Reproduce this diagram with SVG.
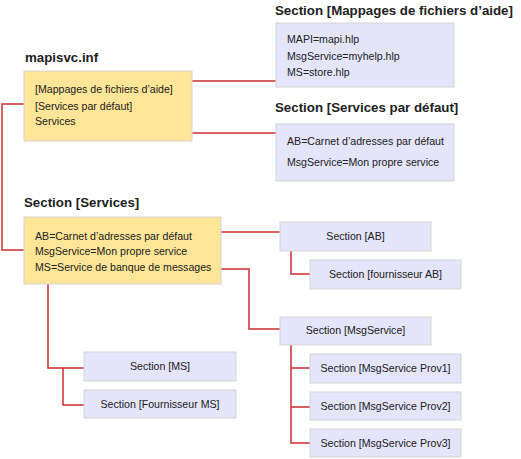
<svg xmlns="http://www.w3.org/2000/svg" width="521" height="459" viewBox="0 0 521 459">
<style>
.t{font-family:"Liberation Sans",Arial,sans-serif;font-size:13.3px;font-weight:bold;fill:#222}
.b{font-family:"Liberation Sans",Arial,sans-serif;font-size:10.6px;fill:#222}
.c{text-anchor:middle}
.y{fill:#FFE597;stroke:#D4D4D4;stroke-width:1}
.l{fill:#E4E4FA;stroke:#D4D4D4;stroke-width:1}
.k{fill:none;stroke:#CC2E33;stroke-width:1.5}
</style>
<rect width="521" height="459" fill="#fff"/>
<g id="connectors">
<path class="k" d="M192,81H276"/>
<path class="k" d="M192,133H276"/>
<path class="k" d="M24,104H2V250H24"/>
<path class="k" d="M221,232H280"/>
<path class="k" d="M291,251V274H310"/>
<path class="k" d="M221,269H249V329H280"/>
<path class="k" d="M48,284V368H84"/>
<path class="k" d="M63,368V405H84"/>
<path class="k" d="M291,345V443H310M291,368H310M291,407H310"/>
</g>
<g id="mapisvc">
<text class="t" x="25" y="62">mapisvc.inf</text>
<rect class="y" x="24" y="71" width="168" height="70"/>
<text class="b" x="35" y="93">[Mappages de fichiers d’aide]</text>
<text class="b" x="35" y="110">[Services par défaut]</text>
<text class="b" x="35" y="125">Services</text>
</g>
<g id="helpmap">
<text class="t" x="275" y="15">Section [Mappages de fichiers d’aide]</text>
<rect class="l" x="276" y="23" width="178" height="64"/>
<text class="b" x="287" y="43">MAPI=mapi.hlp</text>
<text class="b" x="287" y="60">MsgService=myhelp.hlp</text>
<text class="b" x="287" y="76">MS=store.hlp</text>
</g>
<g id="defaultservices">
<text class="t" x="275" y="112">Section [Services par défaut]</text>
<rect class="l" x="276" y="124" width="178" height="57"/>
<text class="b" x="287" y="145">AB=Carnet d’adresses par défaut</text>
<text class="b" x="287" y="166">MsgService=Mon propre service</text>
</g>
<g id="services">
<text class="t" x="24" y="207">Section [Services]</text>
<rect class="y" x="24" y="217" width="197" height="67"/>
<text class="b" x="35" y="240">AB=Carnet d’adresses par défaut</text>
<text class="b" x="35" y="255">MsgService=Mon propre service</text>
<text class="b" x="35" y="271">MS=Service de banque de messages</text>
</g>
<g id="ab">
<rect class="l" x="280" y="222" width="151" height="29"/>
<text class="b c" x="355.5" y="240">Section [AB]</text>
</g>
<g id="abprov">
<rect class="l" x="310" y="260" width="151" height="29"/>
<text class="b c" x="385.5" y="278">Section [fournisseur AB]</text>
</g>
<g id="msgservice">
<rect class="l" x="280" y="317" width="151" height="28"/>
<text class="b c" x="355.5" y="334">Section [MsgService]</text>
</g>
<g id="prov1">
<rect class="l" x="310" y="354" width="151" height="29"/>
<text class="b c" x="385.5" y="372">Section [MsgService Prov1]</text>
</g>
<g id="prov2">
<rect class="l" x="310" y="392" width="151" height="28"/>
<text class="b c" x="385.5" y="410">Section [MsgService Prov2]</text>
</g>
<g id="prov3">
<rect class="l" x="310" y="429" width="151" height="28"/>
<text class="b c" x="385.5" y="447">Section [MsgService Prov3]</text>
</g>
<g id="ms">
<rect class="l" x="84" y="352" width="152" height="29"/>
<text class="b c" x="160" y="370">Section [MS]</text>
</g>
<g id="msprov">
<rect class="l" x="84" y="390" width="152" height="28"/>
<text class="b c" x="160" y="408">Section [Fournisseur MS]</text>
</g>
</svg>
